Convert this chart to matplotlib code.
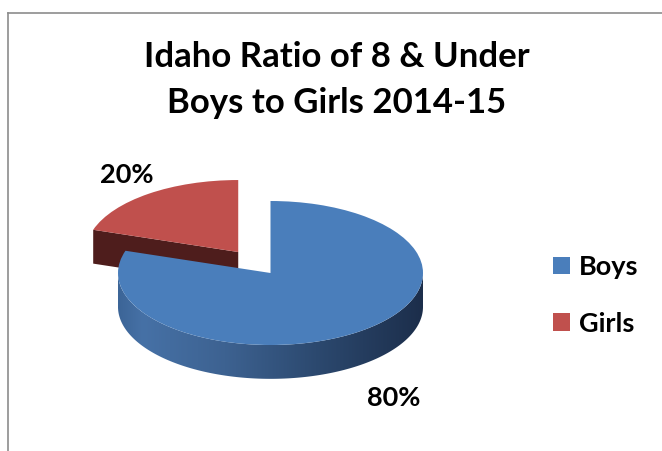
import numpy as np
import matplotlib
matplotlib.use("Agg")
import matplotlib.pyplot as plt
from matplotlib.colors import LinearSegmentedColormap
from matplotlib.patches import Polygon
from matplotlib.lines import Line2D

# ---- data ----
categories = ["Boys", "Girls"]
values = [80, 20]
pct_labels = [f"{v}%" for v in values]
title_lines = ["Idaho Ratio of 8 & Under", "Boys to Girls 2014-15"]

# ---- style ----
top_colors = ["#4a7ebb", "#c0504d"]
side_dark = ["#1d3050", "#4e1d1c"]
explode = [0.0, 0.36]
depth = 0.47          # pie thickness in data units (y)
W, H = 662, 451
cx, cy = 270.5, 273.0   # pie centre in pixels (from top)
rx, ry = 152.5, 72.0    # ellipse radii in pixels
FONT = ["Lato", "DejaVu Sans"]

fig = plt.figure(figsize=(W / 100, H / 100), dpi=100)
fig.patch.set_facecolor("white")
ax = fig.add_axes([0, 0, 1, 1])

wedges, _ = ax.pie(values, colors=top_colors, startangle=90, counterclock=False,
                   explode=explode, radius=1,
                   wedgeprops=dict(linewidth=0))

cmap = LinearSegmentedColormap.from_list(
    "side", [(0.0, "#3c6597"), (0.08, "#4671a6"), (0.35, "#3d6291"),
             (0.65, "#2c496f"), (1.0, "#1c2e4b")])

for i, w in enumerate(wedges):
    c = np.array(w.center)
    t1, t2 = w.theta1, w.theta2
    order = 2 * (len(wedges) - i)  # front slice drawn last
    w.set_zorder(order + 1)
    # outer curved side (front-facing part)
    th = np.linspace(t1, t2, 400)
    rad = np.deg2rad(th)
    front = np.sin(rad) < 0
    if front.any():
        xs = c[0] + w.r * np.cos(rad[front])
        ys = c[1] + w.r * np.sin(rad[front])
        poly = np.vstack([np.column_stack([xs, ys]),
                          np.column_stack([xs[::-1], ys[::-1] - depth])])
        patch = Polygon(poly, closed=True, facecolor="none", edgecolor="none")
        ax.add_patch(patch)
        grad = np.linspace(0, 1, 256).reshape(1, -1)
        im = ax.imshow(grad, cmap=cmap, aspect="auto",
                       extent=[xs.min(), xs.max(), ys.min() - depth, ys.max()],
                       zorder=order, interpolation="bilinear")
        im.set_clip_path(patch)
    # radial faces facing the viewer
    for ang, vis in ((t1, np.cos(np.deg2rad(t1)) > 1e-6),
                     (t2, np.cos(np.deg2rad(t2)) < -1e-6)):
        if vis:
            a = np.deg2rad(ang)
            ox, oy = c[0] + w.r * np.cos(a), c[1] + w.r * np.sin(a)
            face = [(c[0], c[1]), (ox, oy), (ox, oy - depth), (c[0], c[1] - depth)]
            ax.add_patch(Polygon(face, closed=True, facecolor=side_dark[i],
                                 edgecolor="none", zorder=order))

ax.set_aspect("auto")
ax.set_xlim(-cx / rx, (W - cx) / rx)
ax.set_ylim(-(H - cy) / ry, cy / ry)
ax.axis("off")

# ---- title ----
fig.text(336.5 / W, 1 - 67 / H, title_lines[0], ha="center", va="baseline",
         fontsize=25, fontweight="bold", family=FONT)
fig.text(336.5 / W, 1 - 113 / H, title_lines[1], ha="center", va="baseline",
         fontsize=25, fontweight="bold", family=FONT)

# ---- percentage labels ----
fig.text(127 / W, 1 - 183 / H, pct_labels[1], ha="center", va="baseline",
         fontsize=19.5, fontweight="bold", family=FONT)
fig.text(393.5 / W, 1 - 406 / H, pct_labels[0], ha="center", va="baseline",
         fontsize=19.5, fontweight="bold", family=FONT)

# ---- legend ----
leg = ax.legend(wedges, categories, loc="upper left",
                bbox_to_anchor=(553 / W, 1 - 255 / H), bbox_transform=fig.transFigure,
                frameon=False, borderpad=0, borderaxespad=0,
                handlelength=0.63, handleheight=0.63, handletextpad=0.33,
                labelspacing=1.2,
                prop=dict(family=FONT, weight="bold", size=19.5))

# ---- chart border (left and top edges visible) ----
fig.add_artist(Line2D([7.5 / W, 7.5 / W], [0, 1 - 12.5 / H], transform=fig.transFigure,
                      color="#8c8c8c", linewidth=1.2))
fig.add_artist(Line2D([7.5 / W, 1], [1 - 12.5 / H, 1 - 12.5 / H], transform=fig.transFigure,
                      color="#8c8c8c", linewidth=1.2))

fig.savefig("out.png", dpi=100, facecolor="white")
